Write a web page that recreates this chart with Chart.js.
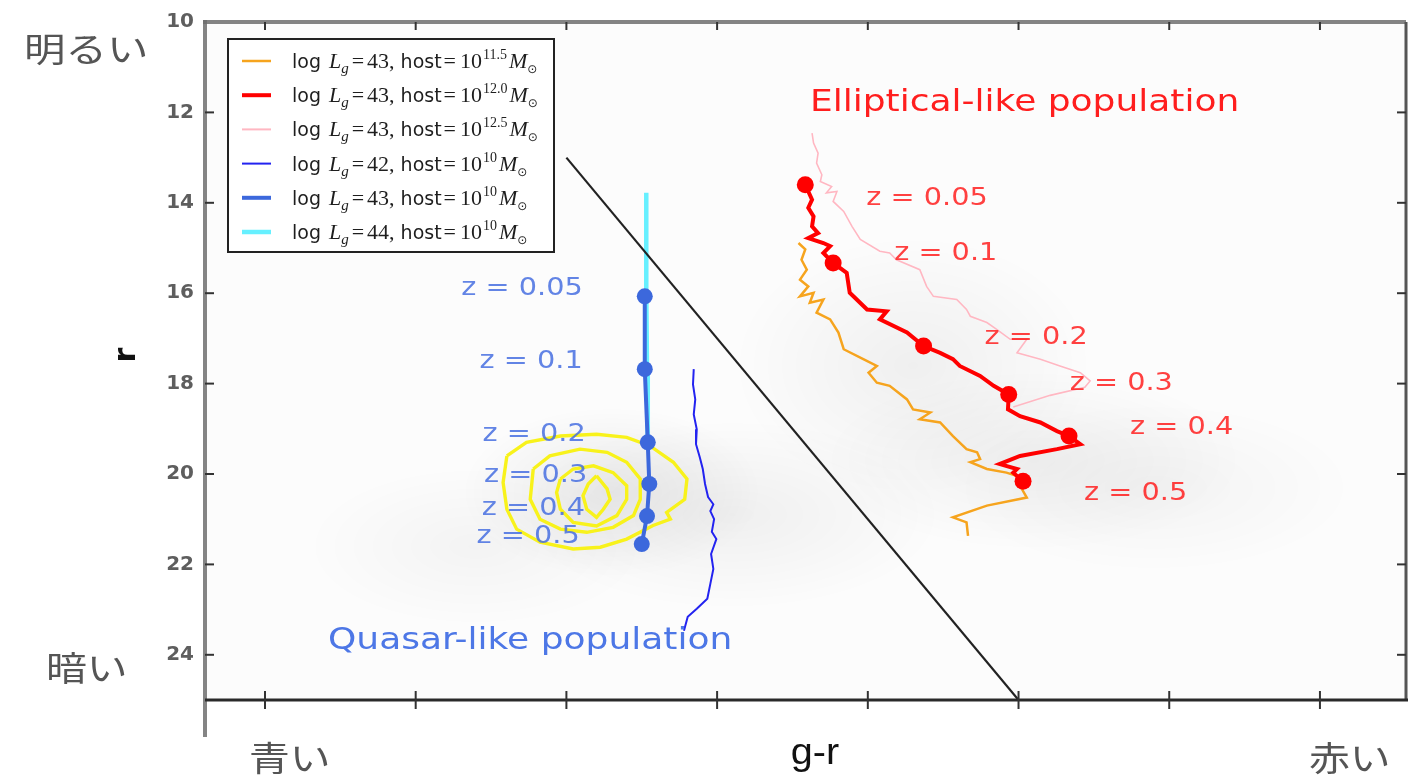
<!DOCTYPE html>
<html><head><meta charset="utf-8">
<script src="https://cdn.jsdelivr.net/npm/chart.js@4.4.1/dist/chart.umd.min.js"></script>
<style>html,body{margin:0;padding:0;background:#fff;}#wrap{width:1408px;height:777px;}</style>
</head><body><div id="wrap"><canvas id="c" width="1408" height="777"></canvas></div>
<script>
// ---------- data ----------
const xTickValues = [0, 0.2, 0.4, 0.6, 0.8, 1.0, 1.2, 1.4];
const yTickValues = [10, 12, 14, 16, 18, 20, 22, 24];
const zLabels = ['z = 0.05', 'z = 0.1', 'z = 0.2', 'z = 0.3', 'z = 0.4', 'z = 0.5'];
const legendLogL = ['43', '43', '43', '42', '43', '44'];
const legendHostExp = ['11.5', '12.0', '12.5', '10', '10', '10'];

const cutLine = [[0.40, 13.0], [1.0, 25.0]];

const quasarDots = [[0.504, 16.07], [0.504, 17.68], [0.508, 19.30], [0.510, 20.22], [0.507, 20.93], [0.500, 21.55]];
const ellipDots = [[0.717, 13.60], [0.754, 15.33], [0.874, 17.17], [0.987, 18.24], [1.067, 19.16], [1.006, 20.16]];

const track44h10 = [[0.506, 13.78], [0.506, 16.0], [0.507, 17.7], [0.508, 19.35]];
const track43h10 = [[0.504, 16.07], [0.504, 17.68], [0.508, 19.30], [0.510, 20.22], [0.507, 20.93], [0.500, 21.55]];
const track42h10 = [[0.569,17.68],[0.568,18.02],[0.571,18.35],[0.569,18.68],[0.573,19.01],[0.572,19.34],[0.577,19.63],[0.581,19.89],[0.584,20.22],[0.588,20.51],[0.595,20.67],[0.591,20.82],[0.596,21.00],[0.593,21.28],[0.599,21.44],[0.592,21.77],[0.595,22.10],[0.591,22.43],[0.587,22.76],[0.573,22.98],[0.561,23.16],[0.556,23.47]];
const track43h120 = [[0.717,13.60],[0.726,13.93],[0.721,14.11],[0.728,14.30],[0.726,14.52],[0.734,14.67],[0.721,14.78],[0.741,14.89],[0.750,14.96],[0.741,15.11],[0.754,15.33],[0.772,15.55],[0.776,15.99],[0.799,16.36],[0.825,16.40],[0.816,16.58],[0.852,16.87],[0.874,17.17],[0.896,17.32],[0.913,17.46],[0.922,17.61],[0.949,17.83],[0.967,18.05],[0.987,18.24],[0.986,18.57],[1.002,18.72],[1.029,18.86],[1.051,19.05],[1.067,19.16],[1.082,19.34],[1.051,19.45],[1.002,19.60],[0.975,19.78],[0.998,19.89],[0.993,19.97],[1.006,20.16]];
const track43h125 = [[0.726,12.46],[0.728,12.68],[0.734,12.90],[0.732,13.12],[0.739,13.38],[0.737,13.53],[0.752,13.64],[0.745,13.78],[0.759,13.75],[0.754,13.97],[0.768,14.19],[0.779,14.52],[0.790,14.81],[0.816,15.07],[0.829,15.11],[0.838,15.26],[0.869,15.48],[0.878,15.85],[0.887,16.07],[0.918,16.14],[0.931,16.36],[0.936,16.51],[0.958,16.65],[0.971,16.80],[0.989,17.02],[1.011,17.02],[0.998,17.32],[1.029,17.46],[1.055,17.61],[1.082,17.76],[1.095,17.94],[1.088,18.08],[1.042,18.26],[0.993,18.52]];
const track43h115 = [[0.708,14.89],[0.717,15.03],[0.712,15.26],[0.719,15.48],[0.710,15.70],[0.721,15.85],[0.710,16.07],[0.728,15.99],[0.723,16.21],[0.741,16.14],[0.732,16.43],[0.750,16.58],[0.761,16.87],[0.768,17.24],[0.794,17.46],[0.812,17.61],[0.801,17.76],[0.812,17.98],[0.829,18.05],[0.852,18.35],[0.860,18.57],[0.883,18.64],[0.869,18.79],[0.896,18.86],[0.913,19.16],[0.931,19.45],[0.945,19.52],[0.949,19.67],[0.936,19.74],[0.958,19.89],[0.984,19.97],[1.011,20.11],[1.002,20.26],[1.011,20.52],[0.958,20.70],[0.913,20.96],[0.931,21.07],[0.933,21.37]];

const contour1 = [[0.321,19.60],[0.347,19.30],[0.392,19.16],[0.440,19.12],[0.480,19.19],[0.511,19.38],[0.542,19.74],[0.560,20.11],[0.557,20.56],[0.533,20.85],[0.538,21.00],[0.515,21.14],[0.480,21.44],[0.445,21.62],[0.409,21.66],[0.365,21.51],[0.334,21.22],[0.321,20.78],[0.316,20.19],[0.321,19.60]];
const contour2 = [[0.356,19.89],[0.378,19.60],[0.418,19.45],[0.454,19.52],[0.480,19.74],[0.498,20.11],[0.498,20.56],[0.489,20.92],[0.462,21.18],[0.427,21.29],[0.392,21.22],[0.365,21.00],[0.352,20.56],[0.356,19.89]];
const contour3 = [[0.392,20.11],[0.409,19.89],[0.436,19.82],[0.462,19.97],[0.480,20.26],[0.480,20.56],[0.467,20.92],[0.440,21.15],[0.409,21.07],[0.392,20.78],[0.387,20.41],[0.392,20.11]];
const contour4 = [[0.440,20.04],[0.454,20.33],[0.458,20.56],[0.449,20.78],[0.440,20.96],[0.427,20.78],[0.422,20.48],[0.429,20.22],[0.440,20.04]];

const hazeCenters = [[0.46, 20.4], [0.62, 20.9], [0.86, 17.6], [1.02, 19.7], [0.28, 21.6], [1.18, 20.3]];

// ---------- helpers ----------
const pts = a => a.map(([x, y]) => ({x, y}));
function line(label, arr, color, width, order) {
  return {label, data: pts(arr), showLine: true, borderColor: color, backgroundColor: color,
    borderWidth: width, pointRadius: 0, pointHoverRadius: 0, tension: 0, order, fill: false};
}
function txt(ctx, s, x, y, font, color, align, sx) {
  ctx.save();
  ctx.font = font; ctx.fillStyle = color; ctx.textBaseline = 'middle'; ctx.textAlign = 'left';
  const w = ctx.measureText(s).width * sx;
  const x0 = align === 'right' ? x - w : align === 'center' ? x - w / 2 : x;
  ctx.translate(x0, y); ctx.scale(sx, 1); ctx.fillText(s, 0, 0);
  ctx.restore();
}

const datasets = [
  {label: 'ellipDots', data: pts(ellipDots), showLine: false, pointRadius: 8.5, pointBackgroundColor: '#ff0000', pointBorderWidth: 0, order: 0},
  {label: 'quasarDots', data: pts(quasarDots), showLine: false, pointRadius: 8, pointBackgroundColor: '#3c68dc', pointBorderWidth: 0, order: 0},
  line('43_11.5', track43h115, '#f6a41e', 2.5, 5),
  line('43_12.0', track43h120, '#ff0000', 4, 1),
  line('43_12.5', track43h125, '#ffb7c2', 1.6, 4),
  line('42_10', track42h10, '#2323f0', 2, 5),
  line('43_10', track43h10, '#3c68dc', 4, 2),
  line('44_10', track44h10, '#66f0ff', 4.5, 3),
  line('cut', cutLine, '#222222', 2.2, 2),
  line('c1', contour1, 'rgba(248,242,20,0.97)', 3.4, 6),
  line('c2', contour2, 'rgba(248,242,20,0.97)', 3.4, 6),
  line('c3', contour3, 'rgba(248,242,20,0.97)', 3.4, 6),
  line('c4', contour4, 'rgba(248,242,20,0.97)', 3.4, 6)
];
const legendIdx = [2, 3, 4, 5, 6, 7];

const decor = {
  id: 'decor',
  beforeDatasetsDraw(chart) {
    const {ctx, chartArea: a, scales: {x, y}} = chart;
    ctx.save();
    ctx.beginPath(); ctx.rect(a.left, a.top, a.right - a.left, a.bottom - a.top); ctx.clip();
    ctx.fillStyle = 'rgba(0,0,0,0.012)';
    ctx.fillRect(a.left, a.top, a.right - a.left, a.bottom - a.top);
    const radii = [[150, 85], [210, 95], [180, 130], [210, 90], [170, 80], [200, 85]];
    const alphas = [0.075, 0.05, 0.05, 0.05, 0.035, 0.035];
    hazeCenters.forEach(([hx, hy], i) => {
      const px = x.getPixelForValue(hx), py = y.getPixelForValue(hy);
      const [rx, ry] = radii[i];
      ctx.save();
      ctx.translate(px, py); ctx.scale(1, ry / rx);
      const g = ctx.createRadialGradient(0, 0, 0, 0, 0, rx);
      g.addColorStop(0, 'rgba(0,0,0,' + alphas[i] + ')');
      g.addColorStop(1, 'rgba(0,0,0,0)');
      ctx.fillStyle = g; ctx.beginPath(); ctx.arc(0, 0, rx, 0, Math.PI * 2); ctx.fill();
      ctx.restore();
    });
    ctx.restore();
  },
  afterDraw(chart) {
    const {ctx, chartArea: a, scales: {x, y}} = chart;
    ctx.save();
    // spines
    ctx.lineCap = 'butt';
    ctx.strokeStyle = 'rgba(110,110,110,0.85)'; ctx.lineWidth = 4;
    ctx.beginPath(); ctx.moveTo(a.left - 2, a.top); ctx.lineTo(a.right, a.top); ctx.stroke();
    ctx.beginPath(); ctx.moveTo(a.left, a.top - 2); ctx.lineTo(a.left, 737); ctx.stroke();
    ctx.strokeStyle = '#555'; ctx.lineWidth = 3;
    ctx.beginPath(); ctx.moveTo(a.right, a.top); ctx.lineTo(a.right, a.bottom); ctx.stroke();
    ctx.strokeStyle = '#2a2a2a'; ctx.lineWidth = 3;
    ctx.beginPath(); ctx.moveTo(a.left, a.bottom); ctx.lineTo(a.right + 2, a.bottom); ctx.stroke();
    // ticks
    ctx.strokeStyle = '#333'; ctx.lineWidth = 2;
    yTickValues.forEach(v => {
      const py = y.getPixelForValue(v);
      if (v === 10) return;
      ctx.beginPath(); ctx.moveTo(a.left, py); ctx.lineTo(a.left + 9, py); ctx.stroke();
      ctx.beginPath(); ctx.moveTo(a.right, py); ctx.lineTo(a.right - 9, py); ctx.stroke();
    });
    xTickValues.forEach(v => {
      const px = x.getPixelForValue(v);
      ctx.beginPath(); ctx.moveTo(px, a.top); ctx.lineTo(px, a.top + 8); ctx.stroke();
      ctx.beginPath(); ctx.moveTo(px, a.bottom - 9); ctx.lineTo(px, a.bottom + 9); ctx.stroke();
    });
    // z labels
    quasarDots.forEach(([qx, qy], i) => {
      txt(ctx, zLabels[i], x.getPixelForValue(qx) - 62, y.getPixelForValue(qy) - 8,
        '25px "DejaVu Sans"', 'rgba(70,110,225,0.85)', 'right', 1.15);
    });
    const rdy = [14, -9, -9, -11, -9, 12];
    ellipDots.forEach(([ex, ey], i) => {
      txt(ctx, zLabels[i], x.getPixelForValue(ex) + 61, y.getPixelForValue(ey) + rdy[i],
        '25px "DejaVu Sans"', 'rgba(255,30,30,0.85)', 'left', 1.15);
    });
    // population labels
    txt(ctx, 'Elliptical-like population', x.getPixelForValue(0.7233), y.getPixelForValue(11.79),
      '30px "DejaVu Sans"', '#ff1e1e', 'left', 1.2);
    txt(ctx, 'Quasar-like population', x.getPixelForValue(0.0836), y.getPixelForValue(23.71),
      '30px "DejaVu Sans"', '#4d77e6', 'left', 1.2);
    // legend
    const lx = a.left + 23, ly = a.top + 17, lw = 326, lh = 213;
    ctx.fillStyle = 'rgba(255,255,255,0.92)'; ctx.fillRect(lx, ly, lw, lh);
    ctx.strokeStyle = '#222'; ctx.lineWidth = 2; ctx.strokeRect(lx, ly, lw, lh);
    legendIdx.forEach((di, r) => {
      const ds = chart.data.datasets[di];
      const cy = ly + 22 + r * 34.2;
      ctx.strokeStyle = ds.borderColor; ctx.lineWidth = Math.max(ds.borderWidth, 2);
      ctx.beginPath(); ctx.moveTo(lx + 14, cy); ctx.lineTo(lx + 43, cy); ctx.stroke();
      const segs = [
        {t: 'log', f: '500 19px "DejaVu Sans"', g: 0, dy: 0},
        {t: 'L', f: 'italic 22px "Liberation Serif"', g: 8, dy: 0},
        {t: 'g', f: 'italic 15px "Liberation Serif"', g: 0, dy: 5},
        {t: '=', f: '22px "Liberation Serif"', g: 3, dy: 0},
        {t: legendLogL[r] + ',', f: '22px "Liberation Serif"', g: 3, dy: 0},
        {t: 'host', f: '19px "DejaVu Sans"', g: 6, dy: 0},
        {t: '=', f: '22px "Liberation Serif"', g: 2, dy: 0},
        {t: '10', f: '22px "Liberation Serif"', g: 4, dy: 0},
        {t: legendHostExp[r], f: '14px "Liberation Serif"', g: 1, dy: -9},
        {t: 'M', f: 'italic 22px "Liberation Serif"', g: 2, dy: 0},
        {t: '\u2299', f: '12px "DejaVu Sans"', g: 0, dy: 5}
      ];
      let cx = lx + 64;
      ctx.fillStyle = '#1e1e1e'; ctx.textBaseline = 'alphabetic'; ctx.textAlign = 'left';
      segs.forEach(s => {
        cx += s.g; ctx.font = s.f; ctx.fillText(s.t, cx, cy + 7 + s.dy);
        cx += ctx.measureText(s.t).width;
      });
    });
    // axis texts
    ctx.save();
    ctx.translate(127, 355); ctx.rotate(-Math.PI / 2);
    ctx.font = 'bold 30px "DejaVu Sans"'; ctx.fillStyle = '#111'; ctx.textAlign = 'center'; ctx.textBaseline = 'middle';
    ctx.fillText('r', 0, 0);
    ctx.restore();
    txt(ctx, 'g-r', 815, 754, '36px "Liberation Sans"', '#111', 'center', 1.1);
    const jf = '34px "Noto Sans CJK JP"', jc = '#555';
    txt(ctx, '明るい', 24, 49, jf, jc, 'left', 1.22);
    txt(ctx, '暗い', 46, 668, jf, jc, 'left', 1.2);
    txt(ctx, '青い', 249, 758, jf, jc, 'left', 1.2);
    txt(ctx, '赤い', 1309, 758, jf, jc, 'left', 1.2);
    ctx.restore();
  }
};

new Chart(document.getElementById('c'), {
  type: 'scatter',
  data: {datasets},
  options: {
    responsive: false, animation: false, devicePixelRatio: 1,
    layout: {autoPadding: false, padding: {left: 0, top: 22, right: 2, bottom: 77}},
    plugins: {legend: {display: false}, tooltip: {enabled: false}},
    scales: {
      x: {type: 'linear', display: false, min: -0.0796, max: 1.5142},
      y: {type: 'linear', reverse: true, min: 10, max: 25,
        afterFit: s => { s.width = 205; },
        afterBuildTicks: s => { s.ticks = yTickValues.map(v => ({value: v})); },
        grid: {display: false}, border: {display: false},
        ticks: {padding: 3, color: '#5e5e5e', font: {family: '"DejaVu Sans"', size: 20, weight: 'bold'}}
      }
    }
  },
  plugins: [decor]
});
</script>
</body></html>
